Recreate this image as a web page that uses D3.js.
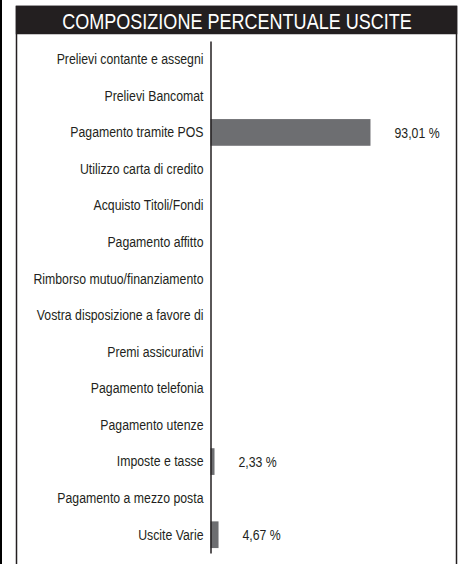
<!DOCTYPE html>
<html>

<head>
  <meta charset='utf-8'>
  <script src="https://cdn.jsdelivr.net/npm/d3@7" type="text/javascript"></script>
  <style type="text/css">
    body {
      margin: 0;
      background: #fff;
    }

    text {
      font-family: "Liberation Sans", Arial, sans-serif;
    }
  </style>
</head>

<body>
  <script>
    let title = 'COMPOSIZIONE PERCENTUALE USCITE'
    let categories = [
      'Prelievi contante e assegni',
      'Prelievi Bancomat',
      'Pagamento tramite POS',
      'Utilizzo carta di credito',
      'Acquisto Titoli/Fondi',
      'Pagamento affitto',
      'Rimborso mutuo/finanziamento',
      'Vostra disposizione a favore di',
      'Premi assicurativi',
      'Pagamento telefonia',
      'Pagamento utenze',
      'Imposte e tasse',
      'Pagamento a mezzo posta',
      'Uscite Varie'
    ]
    let values = [0, 0, 93.01, 0, 0, 0, 0, 0, 0, 0, 0, 2.33, 0, 4.67]

    let w = 462
    let h = 564
    let narrow = 0.82 // niente Arial Narrow, quindi stringo a mano
    let data = categories.map((c, i) => ({ name: c, value: values[i] }))

    let it = d3.formatLocale({ decimal: ',', thousands: '.', grouping: [3], currency: ['', ' €'] })
    let fmt = it.format('.2f')

    let svg = d3.select('body')
      .append('svg')
      .attr('width', w)
      .attr('height', h)

    // riga a sinistra del riquadro
    svg.append('line')
      .attr('x1', 1).attr('x2', 1)
      .attr('y1', 0).attr('y2', h)
      .attr('stroke', '#000')
      .attr('stroke-width', 2)

    // riquadro
    svg.append('rect')
      .attr('x', 16.5).attr('y', 6.5)
      .attr('width', 440).attr('height', h + 10)
      .attr('fill', 'none')
      .attr('stroke', '#231f20')
      .attr('stroke-width', 1.5)

    svg.append('rect')
      .attr('x', 16.5).attr('y', 6.5)
      .attr('width', 440).attr('height', 27)
      .attr('fill', '#231f20')
      .attr('stroke', '#231f20')
      .attr('stroke-width', 1.5)

    svg.append('text')
      .attr('transform', 'translate(237,29) scale(' + narrow + ',1)')
      .attr('text-anchor', 'middle')
      .attr('fill', '#fff')
      .attr('font-size', 22)
      .text(title)

    let xScale = d3.scaleLinear()
      .domain([0, 100])
      .range([210.5, 382.5])

    let yScale = d3.scaleBand()
      .domain(categories)
      .range([41, 553])
      .paddingInner(0.27)
      .paddingOuter(0.135)

    svg.selectAll('.bar')
      .data(data.filter(d => d.value > 0))
      .enter()
      .append('rect')
      .attr('class', 'bar')
      .attr('x', xScale(0))
      .attr('y', d => yScale(d.name))
      .attr('width', d => xScale(d.value) - xScale(0))
      .attr('height', yScale.bandwidth())
      .attr('fill', '#6d6e71')

    svg.selectAll('.lbl')
      .data(data.filter(d => d.value > 0))
      .enter()
      .append('text')
      .attr('class', 'lbl')
      .attr('transform', d => 'translate(' + (xScale(d.value) + 24) + ','
        + (yScale(d.name) + yScale.bandwidth() / 2) + ') scale(' + narrow + ',1)')
      .attr('dy', '0.35em')
      .attr('font-size', 15)
      .attr('fill', '#231f20')
      .text(d => fmt(d.value) + ' %')

    let yAxis = d3.axisLeft(yScale)
      .tickSize(0)
      .tickPadding(7)

    let gy = svg.append('g')
      .attr('transform', 'translate(' + xScale(0) + ',0)')
      .call(yAxis)
    gy.select('.domain')
      .attr('stroke', '#231f20')
      .attr('stroke-width', 1.5)
    gy.selectAll('text')
      .attr('font-size', 15)
      .attr('font-family', null)
      .attr('fill', '#231f20')
      .attr('x', -7 / narrow)
      .attr('transform', 'scale(' + narrow + ',1)')
  </script>
</body>

</html>
